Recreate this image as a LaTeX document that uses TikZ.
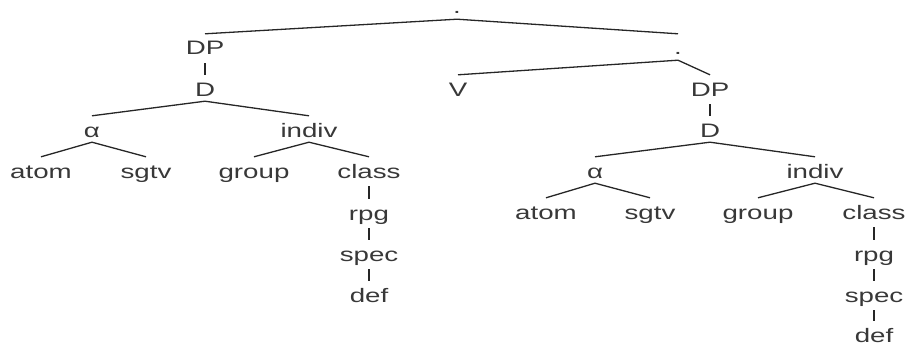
\documentclass[tikz,border=0pt]{standalone}
\usepackage{fontspec}
\setmainfont{Liberation Sans}
\usepackage{graphicx}
\newcommand{\wlab}[1]{\scalebox{1.42}[1]{#1}}
\tikzset{
  lab/.style={anchor=base, inner xsep=0pt, inner ysep=5pt, text height=16pt, text depth=0pt,
    font=\fontsize{19.5}{21}\selectfont, text=black!78},
  br/.style={line width=1.3pt, draw=black!85},
}
\begin{document}
\begin{tikzpicture}[x=1pt,y=-1pt]
\useasboundingbox (0,0) rectangle (907,345);
% left subtree
\node[lab] (root) at (457,14) {\wlab{.}};
\node[lab] (dpl) at (205,55) {\wlab{DP}};
\node[lab] (dl) at (205,96) {\wlab{D}};
\node[lab] (al) at (92,137) {\wlab{α}};
\node[lab] (il) at (309,137) {\wlab{indiv}};
\node[lab] (atl) at (41,178) {\wlab{atom}};
\node[lab] (sgl) at (146,178) {\wlab{sgtv}};
\node[lab] (grl) at (254,178) {\wlab{group}};
\node[lab] (cll) at (369,178) {\wlab{class}};
\node[lab] (rpl) at (369,220) {\wlab{rpg}};
\node[lab] (spl) at (369,261) {\wlab{spec}};
\node[lab] (del) at (369,302) {\wlab{def}};
% right subtree
\node[lab] (n2) at (678,55) {\wlab{.}};
\node[lab] (v) at (458,96) {\wlab{V}};
\node[lab] (dpr) at (710,96) {\wlab{DP}};
\node[lab] (dr) at (710,137) {\wlab{D}};
\node[lab] (ar) at (595,178) {\wlab{α}};
\node[lab] (ir) at (815,178) {\wlab{indiv}};
\node[lab] (atr) at (546,219) {\wlab{atom}};
\node[lab] (sgr) at (650,219) {\wlab{sgtv}};
\node[lab] (grr) at (758,219) {\wlab{group}};
\node[lab] (clr) at (874,219) {\wlab{class}};
\node[lab] (rpr) at (874,261) {\wlab{rpg}};
\node[lab] (spr) at (874,302) {\wlab{spec}};
\node[lab] (der) at (874,342) {\wlab{def}};
% edges
\draw[br] (dpl.north) -- (root.south) -- (n2.north);
\draw[br] ([yshift=-3pt]dpl.south) -- (dl.north);
\draw[br] (al.north) -- (dl.south) -- (il.north);
\draw[br] (atl.north) -- (al.south) -- (sgl.north);
\draw[br] (grl.north) -- (il.south) -- (cll.north);
\draw[br] ([yshift=-3pt]cll.south) -- (rpl.north);
\draw[br] ([yshift=-3pt]rpl.south) -- (spl.north);
\draw[br] ([yshift=-3pt]spl.south) -- (del.north);
\draw[br] (v.north) -- (n2.south) -- (dpr.north);
\draw[br] ([yshift=-3pt]dpr.south) -- (dr.north);
\draw[br] (ar.north) -- (dr.south) -- (ir.north);
\draw[br] (atr.north) -- (ar.south) -- (sgr.north);
\draw[br] (grr.north) -- (ir.south) -- (clr.north);
\draw[br] ([yshift=-3pt]clr.south) -- (rpr.north);
\draw[br] ([yshift=-3pt]rpr.south) -- (spr.north);
\draw[br] ([yshift=-3pt]spr.south) -- (der.north);
\end{tikzpicture}
\end{document}
